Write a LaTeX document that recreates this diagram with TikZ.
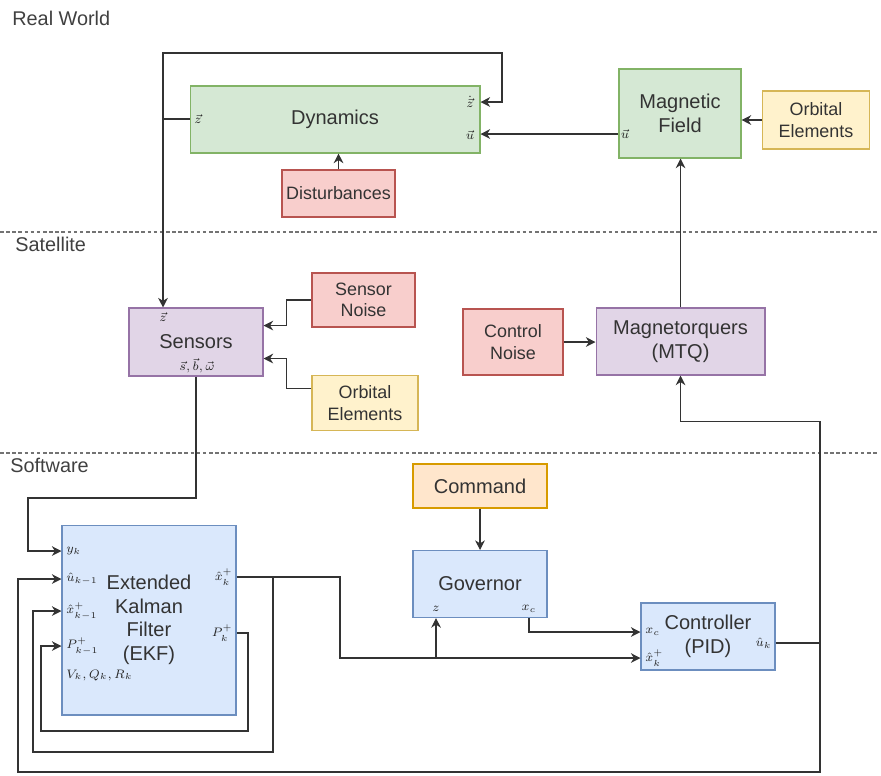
\documentclass[tikz,border=0pt]{standalone}
\usepackage{fontspec}
\setmainfont{Liberation Sans}
\usetikzlibrary{arrows.meta}

\definecolor{grnfill}{HTML}{D5E8D4}
\definecolor{grnline}{HTML}{82B366}
\definecolor{redfill}{HTML}{F8CECC}
\definecolor{redline}{HTML}{B85450}
\definecolor{ylwfill}{HTML}{FFF2CC}
\definecolor{ylwline}{HTML}{D6B656}
\definecolor{prpfill}{HTML}{E1D5E7}
\definecolor{prpline}{HTML}{9673A6}
\definecolor{blufill}{HTML}{DAE8FC}
\definecolor{bluline}{HTML}{6C8EBF}
\definecolor{orgfill}{HTML}{FFE6CC}
\definecolor{orgline}{HTML}{D79B00}

\tikzset{
  blk/.style={draw, rectangle, align=center, text=black!80, inner sep=0pt, line width=0.6pt},
  bigtxt/.style={font=\fontsize{11.4}{13.4}\selectfont},
  smltxt/.style={font=\fontsize{10.2}{12.2}\selectfont},
  realbox/.style={blk, bigtxt, fill=grnfill, draw=grnline},
  noisebox/.style={blk, smltxt, fill=redfill, draw=redline},
  orbitbox/.style={blk, smltxt, fill=ylwfill, draw=ylwline},
  hwbox/.style={blk, bigtxt, fill=prpfill, draw=prpline},
  swbox/.style={blk, bigtxt, fill=blufill, draw=bluline},
  cmdbox/.style={blk, bigtxt, fill=orgfill, draw=orgline},
  port/.style={inner sep=0pt, text=black!85, font=\fontsize{7}{7.5}\selectfont},
  wire/.style={line width=0.6pt, draw=black!80},
  arr/.style={wire, -{Stealth[length=5.5pt, width=5.5pt]}},
  layer/.style={draw=black!55, dash pattern=on 2pt off 1.5pt, line width=0.6pt},
  zone/.style={anchor=west, inner sep=0pt, text=black!75, font=\fontsize{11.3}{13}\selectfont}
}

\begin{document}
\begin{tikzpicture}[x=0.02cm, y=-0.02cm]
  \useasboundingbox (0,0) rectangle (881,775);

  %%%%% LAYERS %%%%%
  \draw[layer] (0,232) -- (878,232);
  \draw[layer] (0,453) -- (878,453);
  \node[zone] (rw) at (12,18) {Real World};
  \node[zone] (sat) at (15,244) {Satellite};
  \node[zone] (sw) at (10,465) {Software};

  %%%%% REAL WORLD %%%%%
  \node[realbox, minimum width=5.8cm, minimum height=1.34cm] (dyn) at (335,119.5) {Dynamics};
  \node[noisebox, minimum width=2.26cm, minimum height=0.94cm] (dist) at (338.5,193.5) {Disturbances};
  \node[realbox, minimum width=2.44cm, minimum height=1.78cm] (mag) at (680,113.5) {Magnetic\\Field};
  \node[orbitbox, minimum width=2.14cm, minimum height=1.16cm] (orbA) at (816,120) {Orbital\\Elements};

  \node[port] (dynz) at (198,119) {$\vec{z}$};
  \node[port] (dynzd) at (470,102) {$\dot{\vec{z}}$};
  \node[port] (dynu) at (470,135) {$\vec{u}$};
  \node[port] (magu) at (625,134) {$\vec{u}$};

  %%%%% SATELLITE %%%%%
  \node[hwbox, minimum width=2.68cm, minimum height=1.36cm] (sens) at (196,342) {Sensors};
  \node[noisebox, minimum width=2.06cm, minimum height=1.08cm] (snoise) at (363.5,300) {Sensor\\Noise};
  \node[orbitbox, minimum width=2.12cm, minimum height=1.1cm] (orbB) at (365,403) {Orbital\\Elements};
  \node[noisebox, minimum width=2.0cm, minimum height=1.32cm] (cnoise) at (513,342) {Control\\Noise};
  \node[hwbox, minimum width=3.38cm, minimum height=1.34cm] (mtq) at (680.5,341.5) {Magnetorquers\\(MTQ)};

  \node[port] (sensz) at (163,317) {$\vec{z}$};
  \node[port] (sensout) at (197,366) {$\vec{s},\vec{b},\vec{\omega}$};

  %%%%% SOFTWARE %%%%%
  \node[swbox, minimum width=3.48cm, minimum height=3.8cm] (ekf) at (149,620) {Extended\\Kalman\\Filter\\(EKF)};
  \node[cmdbox, minimum width=2.68cm, minimum height=0.88cm] (cmd) at (480,486) {Command};
  \node[swbox, minimum width=2.68cm, minimum height=1.34cm] (gov) at (480,584) {Governor};
  \node[swbox, minimum width=2.68cm, minimum height=1.34cm] (ctrl) at (708,636.5) {Controller\\(PID)};

  \node[port, anchor=west] (ekfy) at (66,551) {$y_k$};
  \node[port, anchor=west] (ekfu) at (66,579) {$\hat{u}_{k-1}$};
  \node[port, anchor=west] (ekfx) at (66,611) {$\hat{x}^+_{k-1}$};
  \node[port, anchor=west] (ekfp) at (66,646) {$P^+_{k-1}$};
  \node[port, anchor=west] (ekfq) at (66,675) {$V_k, Q_k, R_k$};
  \node[port, anchor=east] (ekfxo) at (233,577) {$\hat{x}^+_k$};
  \node[port, anchor=east] (ekfpo) at (233,633) {$P^+_k$};

  \node[port] (govz) at (436,609) {$z$};
  \node[port] (govxc) at (529,609) {$x_c$};
  \node[port, anchor=west] (ctrlxc) at (645,632) {$x_c$};
  \node[port, anchor=west] (ctrlx) at (645,658) {$\hat{x}^+_k$};
  \node[port, anchor=east] (ctrlu) at (772,643) {$\hat{u}_k$};

  %%%%% CONNECTIONS %%%%%
  \coordinate (zsplit) at (163,119);
  \draw[wire] (dyn.west |- dynz) -- (zsplit);
  \draw[arr] (zsplit) |- (502,53) |- (dyn.east |- dynzd);
  \draw[arr] (zsplit) -- (sens.north -| zsplit);
  \draw[arr] (mag.west |- magu) -- (dyn.east |- magu);
  \draw[arr] (orbA.west) -- (mag.east |- orbA.west);
  \draw[arr] (dist.north) -- (dyn.south -| dist.north);

  \draw[arr] (snoise.west) -- ++(-25,0) |- ([yshift=0.33cm]sens.east);
  \draw[arr] ([yshift=0.29cm]orbB.west) -- ++(-25,0) |- ([yshift=-0.33cm]sens.east);
  \draw[arr] (cnoise.east) -- (mtq.west |- cnoise.east);
  \draw[arr] (mtq.north) -- (mag.south -| mtq.north);

  \draw[arr] (sens.south) |- (28,498) |- (ekf.west |- ekfy);

  \coordinate (xsplit) at (273,577);
  \draw[wire] (ekf.east |- ekfxo) -- (xsplit);
  \draw[arr] (xsplit) |- (33,752) |- (ekf.west |- ekfx);
  \draw[arr] (ekf.east |- ekfpo) -| (248,731) -| (41,646) -- (ekf.west |- ekfp);
  \draw[arr] (xsplit) -| (340,658) -- (ctrl.west |- ctrlx);
  \coordinate (gsplit) at (436,658);
  \draw[arr] (gsplit) -- (gov.south -| govz);
  \draw[arr] (gov.south -| govxc) |- (ctrl.west |- ctrlxc);
  \draw[arr] (cmd.south) -- (gov.north);

  \coordinate (usplit) at (820,643);
  \draw[wire] (ctrl.east |- ctrlu) -- (usplit);
  \draw[arr] (usplit) |- ([yshift=-0.92cm]mtq.south) -- (mtq.south);
  \draw[arr] (usplit) |- (18,772) |- (ekf.west |- ekfu);
\end{tikzpicture}
\end{document}
